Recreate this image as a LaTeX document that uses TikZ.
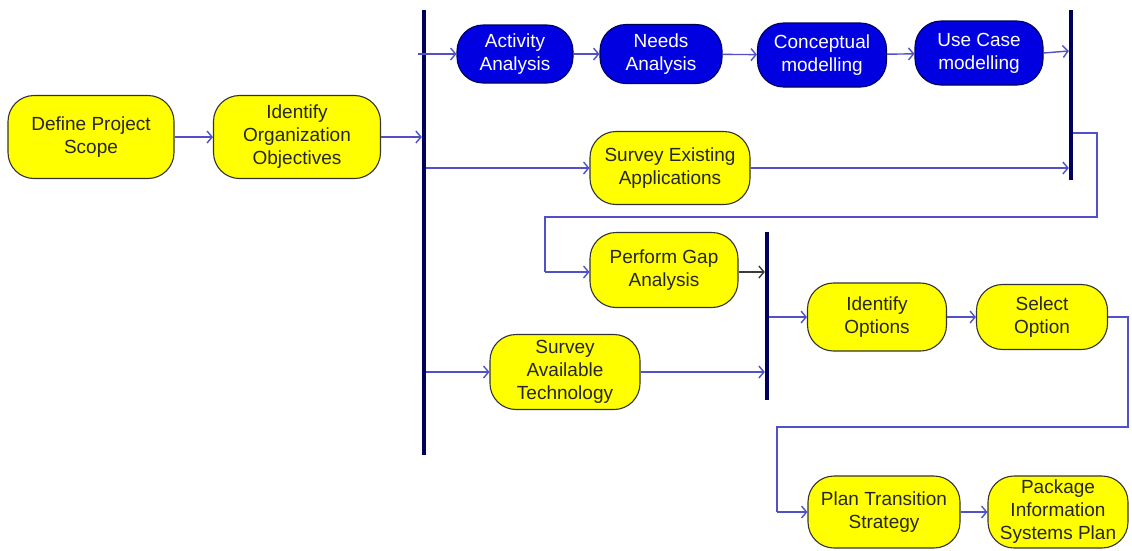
\documentclass[tikz,border=0pt]{standalone}
\usepackage{fontspec}
\setmainfont{Liberation Sans}
\usetikzlibrary{arrows.meta}
\definecolor{actyellow}{RGB}{255,255,0}
\definecolor{actblue}{RGB}{0,0,225}
\definecolor{flowblue}{RGB}{80,80,200}
\definecolor{barnavy}{RGB}{0,0,90}
\definecolor{edgegray}{RGB}{60,60,60}
\tikzset{
  activity/.style={rounded corners=26pt, draw=black!80, line width=1.1pt, align=center,
    inner sep=0pt, font=\fontsize{19}{23}\selectfont},
  yel/.style={activity, fill=actyellow, text=black!85},
  blu/.style={activity, fill=actblue, text=white, draw=barnavy},
  syncbar/.style={fill=barnavy, draw=none, minimum width=4pt, inner sep=0pt},
  flow/.style={draw=flowblue, line width=1.4pt, -{Straight Barb[length=5pt,width=12pt]}},
  link/.style={draw=flowblue, line width=1.4pt},
}
\begin{document}
\begin{tikzpicture}[x=1pt,y=-1pt]
\useasboundingbox (0,0) rectangle (1132,550);

% activities
\node[yel, minimum width=166pt, minimum height=83pt] (dps) at (91,137) {Define Project\\Scope};
\node[yel, minimum width=167pt, minimum height=83pt] (ioo) at (297,137) {Identify\\Organization\\Objectives};
\node[blu, minimum width=116pt, minimum height=58pt] (aa) at (515,54) {Activity\\Analysis};
\node[blu, minimum width=122pt, minimum height=59pt] (na) at (661,54) {Needs\\Analysis};
\node[blu, minimum width=129pt, minimum height=64pt] (cm) at (822,55) {Conceptual\\modelling};
\node[blu, minimum width=128pt, minimum height=64pt] (ucm) at (979,53) {Use Case\\modelling};
\node[yel, minimum width=160pt, minimum height=73pt] (sea) at (670,168) {Survey Existing\\Applications};
\node[yel, minimum width=148pt, minimum height=75pt] (pga) at (664,270) {Perform Gap\\Analysis};
\node[yel, minimum width=150pt, minimum height=75pt] (sat) at (565,372) {Survey\\Available\\Technology};
\node[yel, minimum width=139pt, minimum height=68pt] (io) at (877,317) {Identify\\Options};
\node[yel, minimum width=131pt, minimum height=65pt] (so) at (1042,317) {Select\\Option};
\node[yel, minimum width=152pt, minimum height=72pt] (pts) at (884,512) {Plan Transition\\Strategy};
\node[yel, minimum width=140pt, minimum height=72pt] (pisp) at (1058,512) {Package\\Information\\Systems Plan};

% synchronisation bars
\node[syncbar, minimum height=445pt] (fork1) at (424,232.5) {};
\node[syncbar, minimum height=170pt] (join1) at (1071,95) {};
\node[syncbar, minimum height=168pt] (join2) at (767,316) {};

% bends of the routed connectors
\coordinate (r1) at (1097,133);
\coordinate (r2) at (1097,217);
\coordinate (r3) at (545,217);
\coordinate (r4) at (545,272);
\coordinate (s1) at (1128,317);
\coordinate (s2) at (1128,427);
\coordinate (s3) at (777,427);
\coordinate (s4) at (777,512);

% connectors
\draw[flow] (dps) -- (ioo);
\draw[flow] (ioo) -- (ioo -| fork1.west);
\draw[flow] (aa -| fork1.west) ++(-4,0) -- (aa);
\draw[flow] (aa) -- (na);
\draw[flow] (na) -- (cm);
\draw[flow] (cm) -- (ucm);
\draw[flow] (ucm.east) -- (join1.west |- 0,51);
\draw[flow] (sea -| fork1.east) -- (sea);
\draw[flow] (sea) -- (sea -| join1.west);
\draw[link] (join1.east |- r1) -- (r1) -- (r2) -- (r3) -- (r4);
\draw[flow] (r4) -- (pga.west |- r4);
\draw[flow, draw=edgegray] (pga.east |- r4) -- (join2.west |- r4);
\draw[flow] (sat -| fork1.east) -- (sat);
\draw[flow] (sat) -- (sat -| join2.west);
\draw[flow] (io -| join2.east) -- (io);
\draw[flow] (io) -- (so);
\draw[link] (so.east) -- (s1) -- (s2) -- (s3) -- (s4);
\draw[flow] (s4) -- (pts);
\draw[flow] (pts) -- (pisp);
\end{tikzpicture}
\end{document}
